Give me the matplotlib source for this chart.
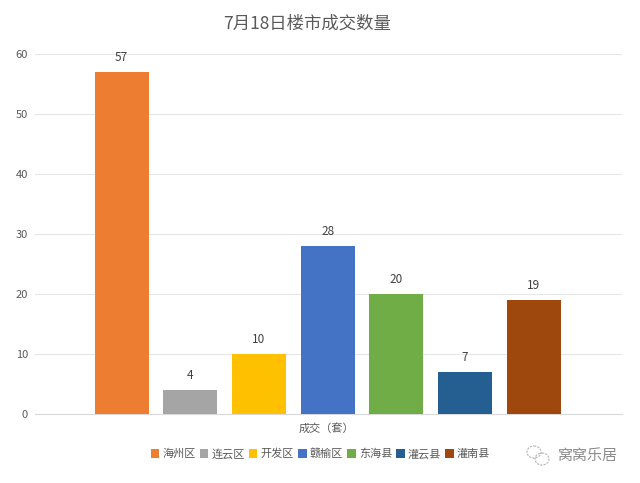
import matplotlib
matplotlib.use('Agg')
import matplotlib.pyplot as plt
import matplotlib.patches as patches

plt.rcParams['font.family'] = ['Noto Sans CJK SC', 'DejaVu Sans']

districts = ['海州区', '连云区', '开发区', '赣榆区', '东海县', '灌云县', '灌南县']
deals = [57, 4, 10, 28, 20, 7, 19]
colors = ['#ED7D31', '#A5A5A5', '#FFC000', '#4472C4', '#70AD47', '#255E91', '#9E480E']
yticks = [0, 10, 20, 30, 40, 50, 60]

W, H = 640, 483
fig = plt.figure(figsize=(W / 100, H / 100), dpi=100)
ax = fig.add_axes([35 / W, 1 - 414 / H, 587 / W, 360 / H])

# one bar per district so the legend picks them up
for i, (name, v, c) in enumerate(zip(districts, deals, colors)):
    ax.bar(i, v, width=0.785, color=c, label=name, zorder=3)
    ax.annotate(str(v), (i, v), xytext=(0, 5.5), textcoords='offset points',
                ha='center', va='bottom', fontsize=8.5, color='#404040')

ax.set_xlim(-1.26, 7.285)
ax.set_ylim(0, 60)
ax.set_yticks(yticks)
ax.set_xticks([])
ax.tick_params(axis='y', length=0, labelsize=8, labelcolor='#595959', pad=5)
ax.grid(axis='y', color='#E6E6E6', lw=0.8, zorder=0)
for s in ['top', 'right', 'left']:
    ax.spines[s].set_visible(False)
ax.spines['bottom'].set_color('#D9D9D9')
ax.spines['bottom'].set_linewidth(0.8)

fig.text(307 / W, 1 - 24 / H, '7月18日楼市成交数量', ha='center', va='center',
         fontsize=12.5, color='#595959')
fig.text(326 / W, 1 - 428 / H, '成交（套）', ha='center', va='center',
         fontsize=8, color='#595959')

leg = fig.legend(loc='center left', bbox_to_anchor=(150.5 / W, 1 - 454 / H), ncol=7,
                 frameon=False, fontsize=8, handlelength=0.8, handleheight=0.8,
                 handletextpad=0.3, columnspacing=0.31, borderpad=0, borderaxespad=0)
for t in leg.get_texts():
    t.set_color('#595959')

# watermark
fig.text(588 / W, 1 - 456 / H, '窝窝乐居', ha='center', va='center',
         fontsize=10.8, color='#8C8C8C')
wm = fig.add_axes([0, 0, 1, 1], facecolor='none')
wm.set_xlim(0, W)
wm.set_ylim(H, 0)
wm.axis('off')
wm.add_patch(patches.Ellipse((534, 452), 14, 12, fill=False, ec='#B5B5B5', lw=0.8, ls=(0, (2, 1))))
wm.add_patch(patches.Ellipse((542, 459), 14, 12, fill=False, ec='#B5B5B5', lw=0.8, ls=(0, (2, 1))))

plt.savefig('out.png', dpi=100)
